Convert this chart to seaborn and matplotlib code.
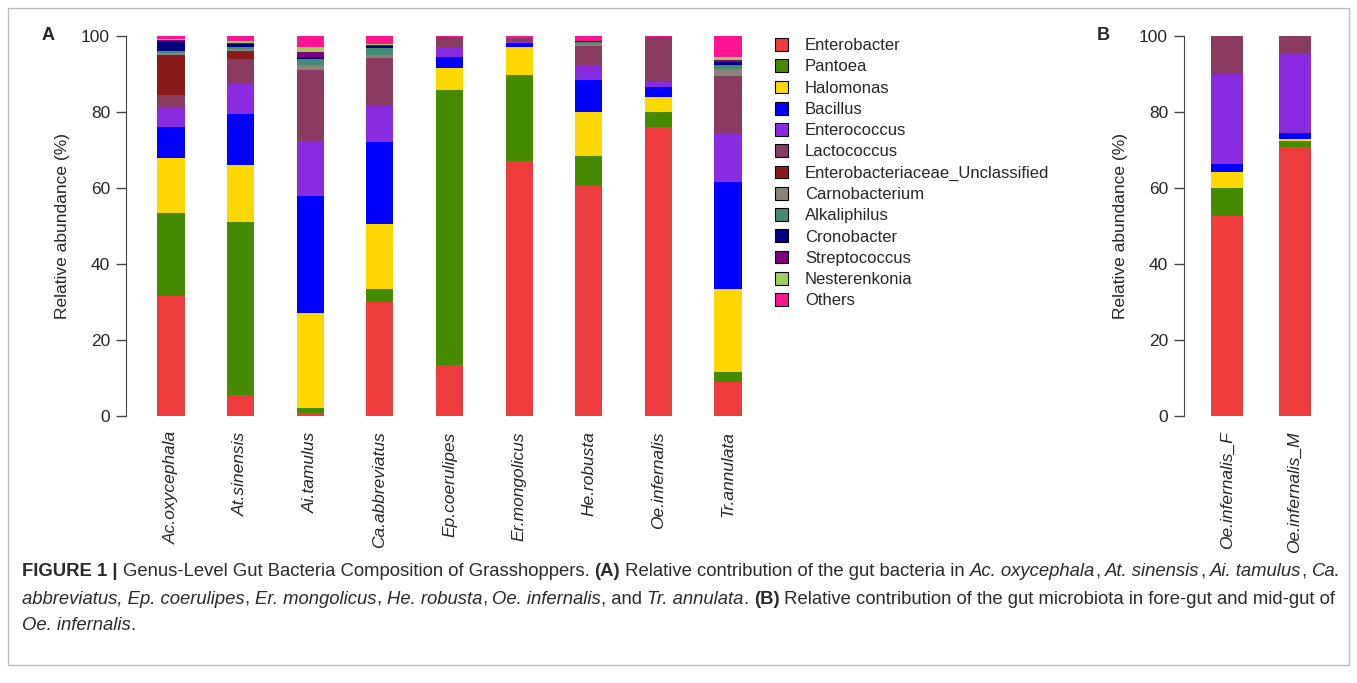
import matplotlib
matplotlib.use("Agg")
import matplotlib.pyplot as plt
from matplotlib.patches import Patch, Rectangle
from matplotlib.font_manager import FontProperties
import numpy as np
import seaborn as sns

############################################################
# Data (relative abundance, %)
############################################################
species = ["Ac.oxycephala", "At.sinensis", "Ai.tamulus", "Ca.abbreviatus", "Ep.coerulipes",
           "Er.mongolicus", "He.robusta", "Oe.infernalis", "Tr.annulata"]
genera = ["Enterobacter", "Pantoea", "Halomonas", "Bacillus", "Enterococcus", "Lactococcus",
          "Enterobacteriaceae_Unclassified", "Carnobacterium", "Alkaliphilus", "Cronobacter",
          "Streptococcus", "Nesterenkonia", "Others"]
colors = ["#EE3B3B", "#458B00", "#FFD700", "#0000FF", "#8A2BE2", "#8B3A62", "#8B1A1A",
          "#8B8378", "#458B74", "#000080", "#800080", "#A2CD5A", "#FF1493"]

enterobacter   = [31.5, 5.5, 0.7, 30.0, 13.5, 67.2, 60.5, 76.0, 9.0]
pantoea        = [22.0, 45.5, 1.3, 3.5, 72.3, 22.5, 8.0, 4.0, 2.5]
halomonas      = [14.5, 15.0, 25.0, 17.0, 5.8, 7.4, 11.5, 4.0, 22.0]
bacillus       = [8.0, 13.5, 31.0, 21.5, 2.9, 1.1, 8.5, 2.5, 28.0]
enterococcus   = [5.0, 8.0, 14.5, 9.5, 2.5, 0.6, 4.0, 1.5, 13.0]
lactococcus    = [3.5, 6.5, 18.5, 12.7, 2.7, 0.8, 5.0, 11.8, 15.0]
entero_uncl    = [10.5, 2.0, 0.0, 0.1, 0.0, 0.0, 0.0, 0.0, 0.0]
carnobacterium = [0.5, 0.5, 1.4, 0.8, 0.0, 0.0, 0.5, 0.0, 1.8]
alkaliphilus   = [0.5, 0.6, 1.6, 1.8, 0.0, 0.0, 0.5, 0.0, 1.0]
cronobacter    = [2.7, 0.8, 0.5, 0.5, 0.0, 0.0, 0.3, 0.0, 0.8]
streptococcus  = [0.3, 0.3, 1.3, 0.3, 0.0, 0.0, 0.0, 0.0, 0.5]
nesterenkonia  = [0.2, 0.5, 1.3, 0.1, 0.0, 0.0, 0.0, 0.0, 0.8]
others         = [0.8, 1.3, 2.9, 2.2, 0.3, 0.4, 1.2, 0.2, 5.6]

layers_a = [enterobacter, pantoea, halomonas, bacillus, enterococcus, lactococcus, entero_uncl,
            carnobacterium, alkaliphilus, cronobacter, streptococcus, nesterenkonia, others]

# panel B: fore-gut / mid-gut of Oe. infernalis
gut = ["Oe.infernalis_F", "Oe.infernalis_M"]
gut_enterobacter = [52.6, 70.9]
gut_pantoea      = [7.4, 1.5]
gut_halomonas    = [4.3, 0.5]
gut_bacillus     = [2.0, 1.5]
gut_enterococcus = [23.8, 21.0]
gut_lactococcus  = [9.9, 4.6]

layers_b = [gut_enterobacter, gut_pantoea, gut_halomonas, gut_bacillus, gut_enterococcus, gut_lactococcus]

############################################################
# Plot
############################################################
sns.set_style("ticks")
plt.rcParams['font.family'] = ['Liberation Sans', 'DejaVu Sans']

W, H = 1357, 683
fig = plt.figure(figsize=(W / 100, H / 100), dpi=100)


def stack_bars(ax, names, layers, width):
    base = np.zeros(len(names))
    for vals, col in zip(layers, colors):
        vals = np.asarray(vals, dtype=float)
        sns.barplot(x=names, y=vals, bottom=base, color=col, width=width, saturation=1,
                    linewidth=0, errorbar=None, ax=ax)
        base = base + vals


def style_axis(ax):
    ax.set_ylim(0, 100)
    ax.set_yticks([0, 20, 40, 60, 80, 100])
    for s in ["top", "right", "bottom"]:
        ax.spines[s].set_visible(False)
    ax.spines["left"].set_bounds(0, 100)
    ax.spines["left"].set_color("#444444")
    ax.tick_params(axis="y", length=7.5, width=1, color="#444444", labelsize=12.5, pad=4)
    ax.tick_params(axis="x", length=0, labelsize=12.5, pad=11)
    for lab in ax.get_xticklabels():
        lab.set_rotation(90)
        lab.set_style("italic")
        lab.set_va("top")
        lab.set_ha("center")
    ax.set_ylabel("Relative abundance (%)", fontsize=12.5, labelpad=8)
    ax.set_xlabel("")


bottom = 1 - 416 / H
height = (416 - 36) / H

axA = fig.add_axes([126 / W, bottom, (760 - 126) / W, height])
stack_bars(axA, species, layers_a, 0.39)
axA.set_xlim(-0.647, 8.46)
style_axis(axA)

axB = fig.add_axes([1184 / W, bottom, (1335 - 1184) / W, height])
stack_bars(axB, gut, layers_b, 0.46)
axB.set_xlim(-0.632, 1.59)
style_axis(axB)

handles = [Patch(facecolor=c, edgecolor="black", linewidth=0.8) for c in colors]
fig.legend(handles, genera, loc="upper left", bbox_to_anchor=(775 / W, 1 - 38 / H),
           frameon=False, fontsize=12, handlelength=0.8, handleheight=0.8,
           handletextpad=1.0, labelspacing=0.365, borderpad=0, borderaxespad=0)

fig.text(42 / W, 1 - 35 / H, "A", fontsize=13, fontweight="bold", va="center")
fig.text(1097 / W, 1 - 35 / H, "B", fontsize=13, fontweight="bold", va="center")

# frame round the figure + caption
fig.patches.append(Rectangle((8 / W, 1 - 665 / H), (1349 - 8) / W, (665 - 8) / H,
                             transform=fig.transFigure, fill=False, edgecolor="#bdbdbd", lw=1))

############################################################
# Caption with mixed bold / italic runs
############################################################
renderer = fig.canvas.get_renderer()
cap_size = 13.35


def run_width(txt, style):
    prop = FontProperties(family=plt.rcParams['font.family'], size=cap_size,
                          weight="bold" if style == "b" else "normal",
                          style="italic" if style == "i" else "normal")
    w, _, _ = renderer.get_text_width_height_descent(txt, prop, ismath=False)
    return w


def caption_line(ypix, parts):
    x = 22.0
    for txt, style in parts:
        core = txt.rstrip(" ")
        n_sp = len(txt) - len(core)
        fig.text(x / W, 1 - ypix / H, core, fontsize=cap_size, color="#2a2a2a", va="center",
                 fontweight="bold" if style == "b" else "normal",
                 fontstyle="italic" if style == "i" else "normal")
        sp = run_width("a a", style) - run_width("aa", style)
        x += run_width(core, style) + n_sp * sp


caption_line(572, [("FIGURE 1 | ", "b"), ("Genus-Level Gut Bacteria Composition of Grasshoppers. ", "n"),
                   ("(A)", "b"), (" Relative contribution of the gut bacteria in ", "n"),
                   ("Ac. oxycephala", "i"), (", ", "n"), ("At. sinensis", "i"), (", ", "n"),
                   ("Ai. tamulus", "i"), (", ", "n"), ("Ca.", "i")])
caption_line(599, [("abbreviatus, Ep. coerulipes", "i"), (", ", "n"), ("Er. mongolicus", "i"), (", ", "n"),
                   ("He. robusta", "i"), (", ", "n"), ("Oe. infernalis", "i"), (", and ", "n"),
                   ("Tr. annulata", "i"), (". ", "n"), ("(B)", "b"),
                   (" Relative contribution of the gut microbiota in fore-gut and mid-gut of", "n")])
caption_line(625, [("Oe. infernalis", "i"), (".", "n")])

fig.savefig("out.png", dpi=100)
